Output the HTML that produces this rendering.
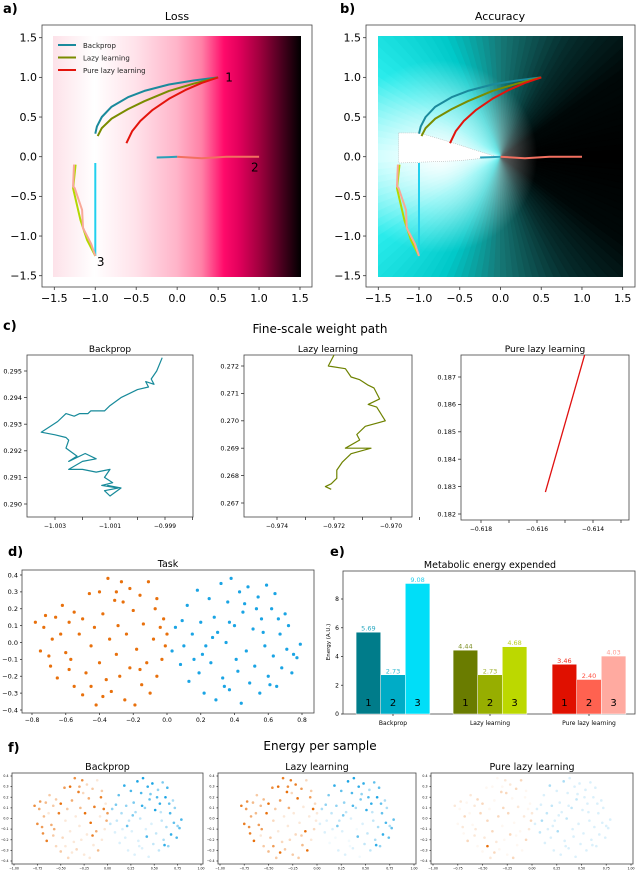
<!DOCTYPE html>
<html><head><meta charset="utf-8">
<style>
body{margin:0;background:#fff;}
svg{display:block;font-family:"DejaVu Sans","Liberation Sans",sans-serif;}
</style></head>
<body>
<svg id="fig" width="640" height="871" viewBox="0 0 640 871" xmlns="http://www.w3.org/2000/svg">
<defs>
<linearGradient id="lossGrad" x1="0" x2="1" y1="0" y2="0">
<stop offset="0" stop-color="#fde2e9"/><stop offset="0.167" stop-color="#ffffff"/>
<stop offset="0.333" stop-color="#ffe2ea"/><stop offset="0.5" stop-color="#ffb4c9"/>
<stop offset="0.6" stop-color="#ff80a6"/><stop offset="0.69" stop-color="#ff0a6a"/>
<stop offset="0.75" stop-color="#e2005c"/><stop offset="0.833" stop-color="#a0003e"/>
<stop offset="0.917" stop-color="#4e0020"/><stop offset="1" stop-color="#000000"/>
</linearGradient>
<radialGradient id="accGlow" cx="0.25" cy="0.5" r="0.4">
<stop offset="0" stop-color="#ffffff" stop-opacity="0.95"/>
<stop offset="0.5" stop-color="#ffffff" stop-opacity="0.5"/>
<stop offset="1" stop-color="#ffffff" stop-opacity="0"/>
</radialGradient>
<clipPath id="accClip"><rect x="378" y="36" width="245" height="241"/></clipPath>
</defs>
<g id="root"></g>
</svg>
<script>
// ---------- DATA ----------
const bp1X=[0.5,0.2,-0.1,-0.4,-0.6,-0.8,-0.92,-0.98,-1.0];
const bp1Y=[1.0,0.96,0.91,0.83,0.75,0.63,0.5,0.38,0.29];
const lz1X=[0.5,0.2,-0.1,-0.4,-0.6,-0.8,-0.92,-0.97];
const lz1Y=[1.0,0.92,0.83,0.7,0.6,0.48,0.36,0.26];
const pu1X=[0.5,0.3,0.1,-0.1,-0.3,-0.45,-0.55,-0.62];
const pu1Y=[1.0,0.93,0.84,0.73,0.59,0.45,0.32,0.17];
const bp2X=[-0.25,-0.1,0.0];
const bp2Y=[-0.01,-0.005,0.0];
const pu2X=[0.0,0.3,0.6,1.0];
const pu2Y=[0.0,-0.02,0.0,0.0];
const bp3X=[-1.0,-1.0];
const bp3Y=[-1.25,-0.08];
const lz3X=[-1.0,-1.1,-1.18,-1.27,-1.24];
const lz3Y=[-1.25,-1.05,-0.8,-0.4,-0.1];
const pu3X=[-1.0,-1.05,-1.15,-1.16,-1.25,-1.27,-1.26];
const pu3Y=[-1.25,-1.1,-0.9,-0.67,-0.4,-0.37,-0.1];
const wedgeX=[-1.25,-1.0,-0.6,-0.3,-0.05,-0.5,-1.25];
const wedgeY=[0.3,0.3,0.18,0.08,0.0,-0.05,-0.08];
const abTicks=[-1.5,-1.0,-0.5,0.0,0.5,1.0,1.5];

const fbX=[-0.9991,-0.9993,-0.9995,-0.9994,-0.9997,-0.9996,-1.0000,-1.0006,-1.0010,-1.0012,-1.0017,-1.0018,-1.0021,-1.0023,-1.0026,-1.0029,-1.0032,-1.0035,-1.0030,-1.0026,-1.0025,-1.0026,-1.0022,-1.0025,-1.0019,-1.0015,-1.0020,-1.0025,-1.0020,-1.0015,-1.0010,-1.0012,-1.0009,-1.0013,-1.0007,-1.0012,-1.0010,-1.0006,-1.0011];
const fbY=[0.2955,0.2950,0.2947,0.2945,0.2946,0.2944,0.2943,0.2940,0.2937,0.2935,0.2935,0.2934,0.2934,0.2933,0.2934,0.2931,0.2929,0.2927,0.2926,0.2925,0.2924,0.2921,0.2918,0.2916,0.2919,0.2917,0.2916,0.2913,0.2913,0.2912,0.2913,0.2910,0.2908,0.2907,0.2906,0.2905,0.2903,0.2906,0.2907];
const flX=[-0.9720,-0.9722,-0.9716,-0.9714,-0.9711,-0.9708,-0.9706,-0.9704,-0.9708,-0.9705,-0.9702,-0.9709,-0.9712,-0.9711,-0.9716,-0.9707,-0.9714,-0.9717,-0.9719,-0.9719,-0.9721,-0.9723,-0.9721];
const flY=[0.2724,0.2720,0.2719,0.2716,0.2715,0.2713,0.2712,0.2708,0.2706,0.2705,0.2700,0.2698,0.2695,0.2693,0.2690,0.2690,0.2688,0.2685,0.2682,0.2679,0.2677,0.2676,0.2675];
const fpX=[-0.6157,-0.6143];
const fpY=[0.1828,0.1878];
const c1XTicks=[-1.003,-1.002,-1.001,-1.000,-0.999,-0.998];
const c1XLabels=["-1.003","","-1.001","","-0.999",""];
const c1YTicks=[0.290,0.291,0.292,0.293,0.294,0.295];
const c2XTicks=[-0.974,-0.973,-0.972,-0.971,-0.970,-0.969];
const c2XLabels=["-0.974","","-0.972","","-0.970",""];
const c2YTicks=[0.267,0.268,0.269,0.270,0.271,0.272];
const c3XTicks=[-0.618,-0.617,-0.616,-0.615,-0.614,-0.613];
const c3XLabels=["-0.618","","-0.616","","-0.614",""];
const c3YTicks=[0.182,0.183,0.184,0.185,0.186,0.187];

const orangeX=[-0.78,-0.75,-0.72,-0.73,-0.70,-0.69,-0.68,-0.66,-0.65,-0.62,-0.60,-0.58,-0.57,-0.55,-0.55,-0.52,-0.50,-0.50,-0.48,-0.46,-0.45,-0.43,-0.42,-0.40,-0.40,-0.38,-0.36,-0.35,-0.34,-0.33,-0.31,-0.30,-0.29,-0.28,-0.27,-0.25,-0.24,-0.22,-0.22,-0.20,-0.19,-0.18,-0.16,-0.15,-0.14,-0.12,-0.11,-0.10,-0.08,-0.07,-0.06,-0.04,-0.03,-0.02,-0.01,-0.45,-0.58,-0.63,-0.26,-0.16,0.0,-0.06,-0.38,-0.30];
const orangeY=[0.12,-0.05,0.16,0.09,-0.08,-0.14,0.02,0.15,-0.21,0.22,-0.06,0.12,-0.10,0.18,-0.26,0.05,-0.31,0.14,-0.18,0.29,-0.02,0.09,-0.37,0.30,-0.12,0.17,-0.22,0.38,0.02,-0.29,0.25,-0.07,0.10,-0.20,0.36,-0.34,0.05,0.32,-0.15,0.19,-0.37,-0.04,0.28,-0.25,0.11,-0.12,0.36,-0.30,0.02,0.20,-0.20,0.09,-0.10,0.14,-0.02,-0.26,-0.16,0.05,0.24,-0.16,0.05,0.26,-0.32,0.30];
const blueX=[0.03,0.05,0.08,0.09,0.10,0.12,0.13,0.15,0.16,0.18,0.19,0.20,0.22,0.23,0.25,0.26,0.28,0.29,0.30,0.32,0.33,0.35,0.36,0.37,0.38,0.40,0.41,0.43,0.44,0.45,0.47,0.48,0.49,0.51,0.52,0.54,0.55,0.56,0.58,0.59,0.60,0.62,0.63,0.64,0.65,0.67,0.68,0.70,0.71,0.72,0.74,0.75,0.77,0.79,0.66,0.42,0.27,0.53,0.37,0.61,0.46,0.34,0.57,0.21];
const blueY=[-0.05,0.09,-0.13,0.13,-0.02,0.22,-0.23,0.05,-0.10,0.31,-0.18,0.12,-0.30,-0.02,0.26,-0.12,0.15,-0.34,0.06,0.35,-0.21,0.00,0.24,-0.28,0.38,0.10,-0.10,0.30,-0.36,0.18,-0.05,0.33,-0.24,0.08,-0.14,0.27,-0.30,0.14,-0.02,0.34,-0.20,0.20,-0.08,0.29,-0.26,0.05,-0.15,0.17,-0.04,0.10,-0.18,-0.07,-0.09,-0.01,0.14,-0.17,0.03,0.20,0.12,-0.25,0.23,-0.26,0.06,-0.07];
const dXTicks=[-0.8,-0.6,-0.4,-0.2,0.0,0.2,0.4,0.6,0.8];
const dYTicks=[-0.4,-0.3,-0.2,-0.1,0.0,0.1,0.2,0.3,0.4];

const groups=["Backprop","Lazy learning","Pure lazy learning"];
const energyBackprop=[5.69,2.73,9.08];
const energyLazy=[4.44,2.73,4.68];
const energyPure=[3.46,2.40,4.03];
const eYTicks=[0,2,4,6,8];

const fBpOrange="7765674483535328392613291517128141719215193185141818115131286315119";
const fBpBlue="2415261318141271513912719418161929242825393747836474676757885126426141";
const fLzOrange="8876785493646439493723391628139152831829316419291619221614231397426129";
const fLzBlue="1314150218041261412901719308051828232826393646837363666657784025425030";
const fPuOrange="1010102021011202021020102010202020102120202010201020102910201020102020";
const fPuBlue="1121311213121113111312111211121111111111111111111111111111111111111111";
const fXTicks=[-1.0,-0.75,-0.5,-0.25,0.0,0.25,0.5,0.75,1.0];
const fYTicks=[-0.4,-0.3,-0.2,-0.1,0.0,0.1,0.2,0.3,0.4];

// ---------- DRAW ----------
const NS="http://www.w3.org/2000/svg";
const root=document.getElementById('root');
function mk(tag,attrs,parent){const e=document.createElementNS(NS,tag);for(const k in attrs)e.setAttribute(k,attrs[k]);(parent||root).appendChild(e);return e;}
function txt(x,y,s,size,anchor,fill,parent,weight){const t=mk('text',{x:x,y:y,'font-size':size,'text-anchor':anchor||'middle',fill:fill||'#000'},parent);if(weight)t.setAttribute('font-weight',weight);t.textContent=s;return t;}
function lin(d0,d1,p0,p1){return v=>p0+(v-d0)/(d1-d0)*(p1-p0);}
function poly(xs,ys,sx,sy,color,w,name,parent){let d='';for(let i=0;i<xs.length;i++)d+=(i?'L':'M')+sx(xs[i]).toFixed(1)+' '+sy(ys[i]).toFixed(1);const p=mk('path',{d:d,fill:'none',stroke:color,'stroke-width':w,'stroke-linejoin':'round'},parent);


return p;}
function frame(x0,y0,x1,y1,name){const r=mk('rect',{x:x0,y:y0,width:x1-x0,height:y1-y0,fill:'none',stroke:'#444','stroke-width':0.8});


return r;}
function xticks(ticks,labels,sx,yb,size,len,off){const g=mk('g',{});


ticks.forEach((t,i)=>{const x=sx(t);mk('line',{x1:x,x2:x,y1:yb,y2:yb+len,stroke:'#333','stroke-width':0.8},g);const l=labels?labels[i]:String(t);if(l)txt(x,yb+len+off,l.replace('-','\u2212'),size,'middle','#000',g);});}
function yticks(ticks,labels,sy,xl,size,len,fmt){const g=mk('g',{});


ticks.forEach((t,i)=>{const y=sy(t);mk('line',{x1:xl-len,x2:xl,y1:y,y2:y,stroke:'#333','stroke-width':0.8},g);const l=labels?labels[i]:fmt(t);txt(xl-len-2,y+size*0.35,l.replace('-','\u2212'),size,'end','#000',g);});}

[['a)',3,13],['b)',340,13],['c)',3,330],['d)',8,556],['e)',330,556],['f)',8,752]].forEach(p=>{const t=txt(p[1],p[2],p[0],13,'start','#000',null,'bold');

});

// ---- panel a: Loss ----
{const sx=lin(-1.5,1.5,54.3,300),sy=lin(-1.5,1.5,275.7,37.7);
const bg=mk('rect',{x:53,y:36,width:248,height:241,fill:'url(#lossGrad)'});


frame(42,25,312,287,'loss-axes');
const t=txt(177,20,'Loss',11);
xticks(abTicks,abTicks.map(v=>v.toFixed(1)),sx,287,11,3,12);
yticks(abTicks,null,sy,42,11,3,v=>v.toFixed(1));
poly(bp1X,bp1Y,sx,sy,'#1a8a9c',2,'loss-backprop-path-1');
poly(lz1X,lz1Y,sx,sy,'#7a8c00',2,'loss-lazy-path-1');
poly(pu1X,pu1Y,sx,sy,'#e3140c',2,'loss-pure-path-1');
poly(pu2X,pu2Y,sx,sy,'#f27060',2,'loss-pure-path-2');
poly(bp2X,bp2Y,sx,sy,'#2aa0b8',2,'loss-backprop-path-2');
poly(bp3X,bp3Y,sx,sy,'#22d0ee',2,'loss-backprop-path-3');
poly(lz3X,lz3Y,sx,sy,'#b4d800',2,'loss-lazy-path-3');
poly(pu3X,pu3Y,sx,sy,'#f9a898',2,'loss-pure-path-3');
txt(sx(0.55)+3,sy(1.0)+4,'1',12,'start');txt(sx(1.0)-8,sy(0)+15,'2',12,'start');txt(sx(-0.98),sy(-1.25)+10,'3',12,'start');
const lg=mk('g',{});
[['Backprop','#1a8a9c'],['Lazy learning','#7a8c00'],['Pure lazy learning','#e3140c']].forEach((e,i)=>{const y=45+i*12.5;mk('line',{x1:58,x2:76,y1:y,y2:y,stroke:e[1],'stroke-width':2},lg);txt(83,y+3,e[0],7,'start','#222',lg);});}

// ---- panel b: Accuracy ----
{const sx=lin(-1.5,1.5,378.3,622.7),sy=lin(-1.5,1.5,275.7,37.7);
const cx=sx(0),cy=sy(0);
const g=mk('g',{'clip-path':'url(#accClip)'});


function accCol(a){
 const A=Math.abs(a);const stops=[[0,[0,0,0]],[35,[0,8,8]],[60,[6,45,45]],[90,[22,120,118]],[115,[0,200,200]],[145,[40,235,235]],[180,[190,255,255]]];
 for(let i=1;i<stops.length;i++){if(A<=stops[i][0]){const f=(A-stops[i-1][0])/(stops[i][0]-stops[i-1][0]);const c=stops[i-1][1].map((v,k)=>Math.round(v+(stops[i][1][k]-v)*f));return 'rgb('+c.join(',')+')';}}return 'rgb(190,255,255)';}
for(let a=-180;a<180;a+=3){const r=400,a0=a*Math.PI/180,a1=(a+3)*Math.PI/180;const col=accCol(a+1.5);mk('path',{d:`M${cx} ${cy}L${cx+r*Math.cos(a0)} ${cy-r*Math.sin(a0)}L${cx+r*Math.cos(a1)} ${cy-r*Math.sin(a1)}Z`,fill:col,stroke:col,'stroke-width':0.8},g);}
mk('rect',{x:378,y:36,width:245,height:241,fill:'url(#accGlow)'},g);
frame(366,25,635,287,'accuracy-axes');
const t=txt(500,20,'Accuracy',11);
xticks(abTicks,abTicks.map(v=>v.toFixed(1)),sx,287,11,3,12);
yticks(abTicks,null,sy,366,11,3,v=>v.toFixed(1));
let d='';wedgeX.forEach((x,i)=>d+=(i?'L':'M')+sx(x)+' '+sy(wedgeY[i]));
const w=mk('path',{d:d+'Z',fill:'#ffffff',stroke:'#bbb','stroke-dasharray':'1 1','stroke-width':0.6});

poly(bp1X,bp1Y,sx,sy,'#1a8a9c',2,'acc-backprop-path-1');
poly(lz1X,lz1Y,sx,sy,'#7a8c00',2,'acc-lazy-path-1');
poly(pu1X,pu1Y,sx,sy,'#e3140c',2,'acc-pure-path-1');
poly(pu2X,pu2Y,sx,sy,'#f27060',2,'acc-pure-path-2');
poly(bp2X,bp2Y,sx,sy,'#2aa0b8',2,'acc-backprop-path-2');
poly(bp3X,bp3Y,sx,sy,'#22d0ee',2,'acc-backprop-path-3');
poly(lz3X,lz3Y,sx,sy,'#b4d800',2,'acc-lazy-path-3');
poly(pu3X,pu3Y,sx,sy,'#f9a898',2,'acc-pure-path-3');}

// ---- panel c ----
{const t=txt(320,333,'Fine-scale weight path',12);
const fmt3=v=>v.toFixed(3);
let sx=lin(-1.003,-1.001,55,110),sy=lin(0.290,0.295,504,371);
frame(27,355,193,517,'backprop-fine-axes');txt(110,352,'Backprop',9);
xticks(c1XTicks,c1XLabels,sx,517,6,3,8);yticks(c1YTicks,null,sy,27,6.5,3,fmt3);
poly(fbX,fbY,sx,sy,'#178a9a',1.2,'backprop-fine-path');
sx=lin(-0.974,-0.972,277,334);sy=lin(0.267,0.272,503,366);
frame(244,355,412,517,'lazy-fine-axes');txt(328,352,'Lazy learning',9);
xticks(c2XTicks,c2XLabels,sx,517,6,3,8);yticks(c2YTicks,null,sy,244,6.5,3,fmt3);
poly(flX,flY,sx,sy,'#6e8200',1.2,'lazy-fine-path');
sx=lin(-0.618,-0.616,481,537);sy=lin(0.182,0.187,514,377);
frame(461,355,629,520,'pure-fine-axes');txt(545,352,'Pure lazy learning',9);
xticks(c3XTicks,c3XLabels,sx,520,6,3,8);yticks(c3YTicks,null,sy,461,6.5,3,fmt3);
poly(fpX,fpY,sx,sy,'#e01010',1.3,'pure-fine-path');}

// ---- panel d: Task ----
{const sx=lin(-0.8,0.8,32,302),sy=lin(-0.4,0.4,710,575);
frame(22,570,314,713,'task-axes');
const t=txt(168,567,'Task',9.5);
xticks(dXTicks,dXTicks.map(v=>v.toFixed(1)),sx,713,6,2,7);
yticks(dYTicks,null,sy,22,6.5,2,v=>v.toFixed(1));
orangeX.forEach((x,i)=>{const c=mk('circle',{cx:sx(x),cy:sy(orangeY[i]),r:1.6,fill:'#e8700c'});

});
blueX.forEach((x,i)=>{const c=mk('circle',{cx:sx(x),cy:sy(blueY[i]),r:1.6,fill:'#1aa4e4'});

});}

// ---- panel e: energy bars ----
{const sy=lin(0,8,714,599);const bw=24.6;
frame(343,571,635,714,'energy-axes');
const t=txt(490,568,'Metabolic energy expended',9.5);
yticks(eYTicks,null,sy,343,6,2,v=>String(v));
const yl=txt(0,0,'Energy (A.U.)',5.5);yl.setAttribute('transform','translate(330,642) rotate(-90)');

const series=[energyBackprop,energyLazy,energyPure];
const cols=[['#007c8a','#00acc6','#00def8'],['#6a7c00','#97ae00','#bcd800'],['#e01000','#ff6250','#ffaaa0']];
const lcols=[['#2aa8c0','#2ab8d0','#22d0ee'],['#7a8c20','#a0b030','#b8d020'],['#f03020','#ff5040','#ff9a90']];
const centers=[393,490,589];
series.forEach((vals,g)=>{vals.forEach((v,i)=>{const x=centers[g]+(i-1.5)*bw;
const r=mk('rect',{x:x,y:sy(v),width:bw,height:sy(0)-sy(v),fill:cols[g][i],stroke:'#fff','stroke-width':0.5});


txt(x+bw/2,sy(v)-1.5,v.toFixed(2),6.5,'middle',lcols[g][i]);
txt(x+bw/2,706,String(i+1),10,'middle','#000');});
txt(centers[g],725,groups[g],6,'middle','#000');
mk('line',{x1:centers[g],x2:centers[g],y1:714,y2:716,stroke:'#333','stroke-width':0.8});});}

// ---- panel f: energy per sample ----
{const t=txt(320,750,'Energy per sample',12);
const defs=[['Backprop',12,203,fBpOrange,fBpBlue],['Lazy learning',218,416,fLzOrange,fLzBlue],['Pure lazy learning',431,633,fPuOrange,fPuBlue]];
defs.forEach(d=>{const x0=d[1],x1=d[2];const sx=lin(-1.0,1.0,x0+2,x1-2),sy=lin(-0.4,0.4,861,776);
frame(x0,773,x1,864,'energy-sample-axes-'+d[0].toLowerCase().replace(/ /g,'-'));
txt((x0+x1)/2,770,d[0],9.5);
xticks(fXTicks,fXTicks.map(v=>v.toFixed(2)),sx,864,3.2,1.5,4);
yticks(fYTicks,null,sy,x0,3.2,1.5,v=>v.toFixed(1));
orangeX.forEach((x,i)=>{const a=(+d[3][i]||0)/9;const c=mk('circle',{cx:sx(x),cy:sy(orangeY[i]),r:1.3,fill:'#e8700c','fill-opacity':(0.06+0.94*a).toFixed(2)});

});
blueX.forEach((x,i)=>{const a=(+d[4][i]||0)/9;const c=mk('circle',{cx:sx(x),cy:sy(blueY[i]),r:1.3,fill:'#1aa4e4','fill-opacity':(0.06+0.94*a).toFixed(2)});

});});}
</script>
</body></html>
